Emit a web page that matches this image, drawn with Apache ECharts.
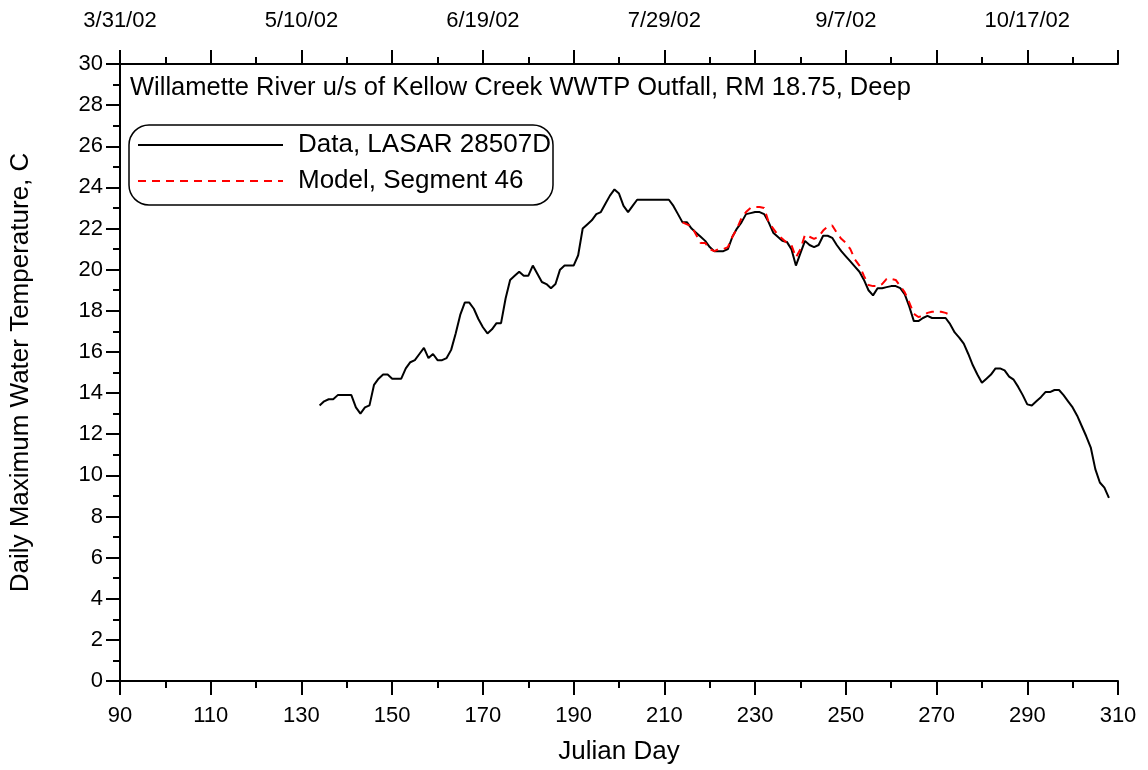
<!DOCTYPE html>
<html>
<head>
<meta charset="utf-8">
<script src="https://cdn.jsdelivr.net/npm/echarts@6/dist/echarts.min.js"></script>
<style>
html,body{margin:0;padding:0;background:#fff;}
#chart{width:1148px;height:770px;}
</style>
</head>
<body>
<div id="chart"></div>
<script>
// Data: LASAR 28507D (Julian day, daily max temperature C)
const dataDays = [134,135,136,137,138,139,140,141,142,143,144,145,146,147,148,149,150,151,152,153,154,155,156,157,158,159,160,161,162,163,164,165,166,167,168,169,170,171,172,173,174,175,176,177,178,179,180,181,182,183,184,185,186,187,188,189,190,191,192,193,194,195,196,197,198,199,200,201,202,203,204,205,206,207,208,209,210,211,212,213,214,215,216,217,218,219,220,221,222,223,224,225,226,227,228,229,230,231,232,233,234,235,236,237,238,239,240,241,242,243,244,245,246,247,248,249,250,251,252,253,254,255,256,257,258,259,260,261,262,263,264,265,266,267,268,269,270,271,272,273,274,275,276,277,278,279,280,281,282,283,284,285,286,287,288,289,290,291,292,293,294,295,296,297,298,299,300,301,302,303,304,305,306,307,308];
const dataTemps = [13.4,13.6,13.7,13.7,13.9,13.9,13.9,13.9,13.3,13.0,13.3,13.4,14.4,14.7,14.9,14.9,14.7,14.7,14.7,15.2,15.5,15.6,15.9,16.2,15.7,15.9,15.6,15.6,15.7,16.1,16.9,17.8,18.4,18.4,18.1,17.6,17.2,16.9,17.1,17.4,17.4,18.6,19.5,19.7,19.9,19.7,19.7,20.2,19.8,19.4,19.3,19.1,19.3,20.0,20.2,20.2,20.2,20.7,22.0,22.2,22.4,22.7,22.8,23.2,23.6,23.9,23.7,23.1,22.8,23.1,23.4,23.4,23.4,23.4,23.4,23.4,23.4,23.4,23.1,22.7,22.3,22.3,22.0,21.8,21.6,21.4,21.1,20.9,20.9,20.9,21.0,21.6,22.0,22.3,22.7,22.75,22.8,22.8,22.7,22.3,21.8,21.6,21.4,21.35,21.0,20.2,20.8,21.4,21.2,21.1,21.2,21.65,21.65,21.55,21.2,20.9,20.65,20.4,20.15,19.9,19.5,19.0,18.75,19.1,19.1,19.15,19.2,19.2,19.1,18.8,18.2,17.5,17.5,17.65,17.75,17.65,17.65,17.65,17.65,17.35,16.95,16.7,16.4,15.9,15.35,14.9,14.5,14.7,14.9,15.2,15.2,15.1,14.8,14.65,14.3,13.9,13.45,13.4,13.6,13.8,14.05,14.05,14.15,14.15,13.9,13.6,13.3,12.9,12.4,11.9,11.35,10.3,9.65,9.4,8.9];

// Model, Segment 46
const modelDays = [214,215,216,217,218,219,220,221,222,223,224,225,226,227,228,229,230,231,232,233,234,235,236,237,238,239,240,241,242,243,244,245,246,247,248,249,250,251,252,253,254,255,256,257,258,259,260,261,262,263,264,265,266,267,268,269,270,271,272,273];
const modelTemps = [22.3,22.2,22.1,21.7,21.3,21.3,21.0,20.9,21.0,21.0,21.1,21.6,22.0,22.5,22.8,23.0,23.05,23.05,23.0,22.3,22.0,21.7,21.5,21.3,21.2,20.6,21.0,21.7,21.6,21.5,21.6,21.9,22.1,22.15,21.8,21.5,21.3,21.0,20.5,20.2,19.7,19.25,19.2,19.2,19.3,19.55,19.55,19.5,19.2,18.9,18.4,17.85,17.7,17.75,17.9,17.95,17.95,17.95,17.9,17.8];

// Top axis date labels
const topTickDays = [90,130,170,210,250,290];
const topTickLabels = ['3/31/02','5/10/02','6/19/02','7/29/02','9/7/02','10/17/02'];

const titleText = 'Willamette River u/s of Kellow Creek WWTP Outfall, RM 18.75, Deep';
const seriesNames = ['Data, LASAR 28507D','Model, Segment 46'];

const FONT = '"Liberation Sans", Arial, sans-serif';
const chart = echarts.init(document.getElementById('chart'), null, {renderer:'canvas'});

const axisCommon = {
  type:'value', min:90, max:310, interval:20,
  axisLine:{show:true, lineStyle:{color:'#000', width:2}},
  axisTick:{show:true, inside:false, length:14, lineStyle:{color:'#000', width:2}},
  minorTick:{show:true, splitNumber:2, length:7, lineStyle:{color:'#000', width:2}},
  splitLine:{show:false}, minorSplitLine:{show:false}
};

const option = {
  backgroundColor:'#fff',
  animation:false,
  grid:{left:120, right:30, top:64, bottom:89, containLabel:false},
  xAxis:[
    Object.assign({}, axisCommon, {
      position:'bottom',
      name:'Julian Day', nameLocation:'middle', nameGap:58,
      nameTextStyle:{fontFamily:FONT, fontSize:26, color:'#000'},
      axisLabel:{fontFamily:FONT, fontSize:22, color:'#000', margin:24}
    }),
    Object.assign({}, axisCommon, {
      position:'top',
      axisLabel:{fontFamily:FONT, fontSize:22, color:'#000', margin:32,
        formatter:function(v){ const i = topTickDays.indexOf(v); return i>=0 ? topTickLabels[i] : ''; }}
    })
  ],
  yAxis:{
    type:'value', min:0, max:30, interval:2,
    name:'Daily Maximum Water Temperature, C', nameLocation:'middle', nameGap:86,
    nameTextStyle:{fontFamily:FONT, fontSize:26, color:'#000'},
    axisLine:{show:true, lineStyle:{color:'#000', width:2}},
    axisTick:{show:true, inside:false, length:14, lineStyle:{color:'#000', width:2}},
    minorTick:{show:true, splitNumber:2, length:7, lineStyle:{color:'#000', width:2}},
    axisLabel:{fontFamily:FONT, fontSize:22, color:'#000', margin:17},
    splitLine:{show:false}
  },
  series:[
    {
      name:seriesNames[0], type:'line', xAxisIndex:0,
      data:dataDays.map((d,i)=>[d,dataTemps[i]]),
      showSymbol:false, smooth:false,
      lineStyle:{color:'#000', width:2}, z:2
    },
    {
      name:seriesNames[1], type:'line', xAxisIndex:0,
      data:modelDays.map((d,i)=>[d,modelTemps[i]]),
      showSymbol:false, smooth:false,
      lineStyle:{color:'#ff0000', width:2, type:[8,6]}, z:3
    }
  ],
  graphic:[
    {type:'text', left:130, top:75, style:{text:titleText, font:'25.5px '+FONT, fill:'#000'}},
    {type:'rect', shape:{x:129, y:125, width:424, height:80, r:20}, style:{fill:'#fff', stroke:'#000', lineWidth:1.5}, z:10},
    {type:'line', shape:{x1:138, y1:145, x2:283, y2:145}, style:{stroke:'#000', lineWidth:2}, z:11},
    {type:'text', x:298, y:145, style:{text:seriesNames[0], font:'26px '+FONT, fill:'#000', textVerticalAlign:'middle'}, z:11},
    {type:'line', shape:{x1:138, y1:181, x2:283, y2:181}, style:{stroke:'#ff0000', lineWidth:2, lineDash:[8,6]}, z:11},
    {type:'text', x:298, y:181, style:{text:seriesNames[1], font:'26px '+FONT, fill:'#000', textVerticalAlign:'middle'}, z:11}
  ]
};
chart.setOption(option);
</script>
</body>
</html>
